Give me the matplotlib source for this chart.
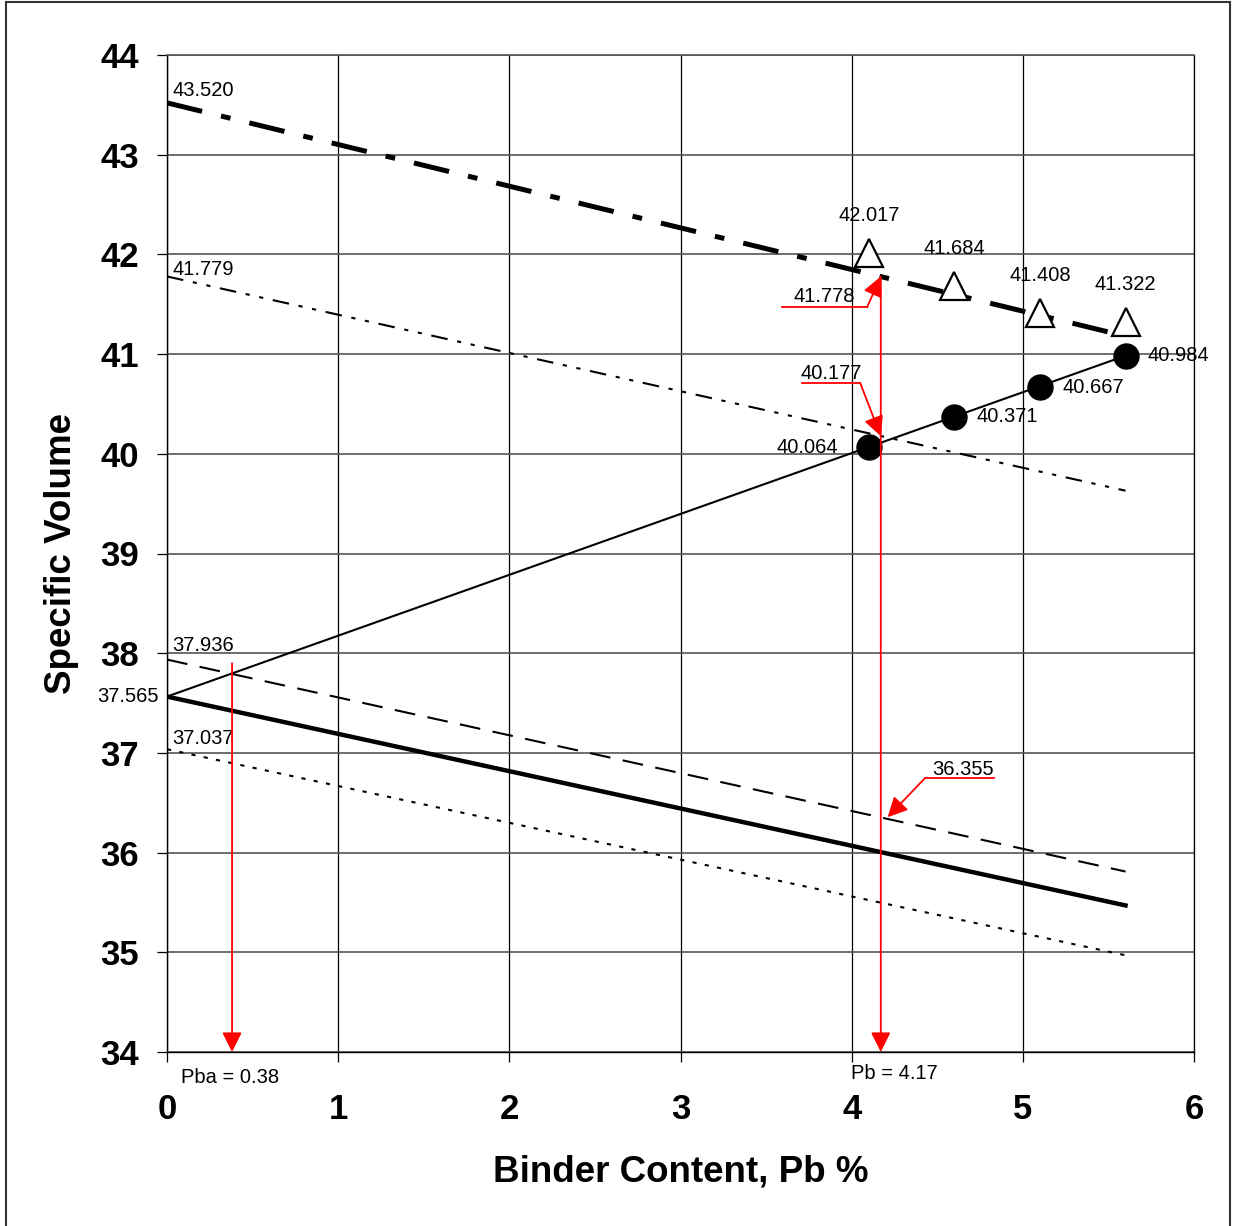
import matplotlib
matplotlib.use("Agg")
import matplotlib.pyplot as plt
from matplotlib.patches import Rectangle

plt.rcParams["font.family"] = ["Liberation Sans", "DejaVu Sans"]
plt.rcParams["lines.scale_dashes"] = False

# measured points
pb_points = [4.1, 4.6, 5.1, 5.6]
vol_mix = [40.064, 40.371, 40.667, 40.984]
vol_max = [42.017, 41.684, 41.408, 41.322]

# fitted / derived lines, evaluated at Pb = 0 and Pb = 5.6
line_x = [0.0, 5.6]
line_max = [43.520, 41.180]
line_eff = [41.779, 39.630]
line_mix = [37.565, 40.984]
line_agg = [37.565, 35.470]
line_agg_hi = [37.936, 35.810]
line_agg_lo = [37.037, 34.970]

pba = 0.38
pb = 4.17
pb_max = 41.778
pb_eff = 40.177
pb_agg_hi = 36.355
pba_top = 37.9

fig = plt.figure(figsize=(12.33, 12.26), dpi=100)
ax = fig.add_axes([167 / 1233, 1 - 1052 / 1226, (1194 - 167) / 1233, (1052 - 55) / 1226])

ax.plot(line_x, line_max, color="black", lw=3.6, dashes=(26, 14, 7, 14), solid_capstyle="butt", dash_capstyle="butt")
ax.plot(line_x, line_eff, color="black", lw=1.5, dashes=(12, 7, 3, 7, 3, 7))
ax.plot(line_x, line_mix, color="black", lw=1.5)
ax.plot(line_x, line_agg, color="black", lw=3.2)
ax.plot(line_x, line_agg_hi, color="black", lw=1.5, dashes=(15, 9))
ax.plot(line_x, line_agg_lo, color="black", lw=1.5, dashes=(3, 6))

ax.plot(pb_points, vol_mix, "o", color="black", ms=18, zorder=5)
ax.plot(pb_points, vol_max, "^", mfc="white", mec="black", mew=1.6, ms=20, zorder=5)

small = 14.5
for x, y in zip(pb_points, vol_max):
    ax.annotate(f"{y:.3f}", (x, y), xytext=(0, 27), textcoords="offset points",
                ha="center", va="center", fontsize=small)
for i, (x, y) in enumerate(zip(pb_points, vol_mix)):
    if i == 0:
        ax.annotate(f"{y:.3f}", (x, y), xytext=(-22, 0), textcoords="offset points",
                    ha="right", va="center", fontsize=small)
    else:
        ax.annotate(f"{y:.3f}", (x, y), xytext=(16, 0), textcoords="offset points",
                    ha="left", va="center", fontsize=small)

for vals, dy in [(line_max, 9), (line_eff, 5), (line_agg_hi, 10), (line_agg_lo, 8)]:
    ax.annotate(f"{vals[0]:.3f}", (line_x[0], vals[0]), xytext=(4, dy), textcoords="offset points",
                ha="left", va="center", fontsize=small)
ax.annotate(f"{line_mix[0]:.3f}", (line_x[0], line_mix[0]), xytext=(-6, 0), textcoords="offset points",
            ha="right", va="center", fontsize=small, annotation_clip=False)

# red construction lines
red = "#ff0000"
head = dict(arrowstyle="-|>", color=red, lw=1.3, mutation_scale=30, shrinkA=0, shrinkB=0)
ax.annotate("", xy=(pba, 34.0), xytext=(pba, pba_top), arrowprops=head, zorder=6)
ax.annotate("", xy=(pb, 34.0), xytext=(pb, pb_max), arrowprops=head, zorder=6)

# leader: 41.778
ax.plot([3.593, 4.09], [41.47, 41.47], color=red, lw=1.3, zorder=6)
ax.annotate("", xy=(pb, pb_max), xytext=(4.09, 41.47), arrowprops=head, zorder=6)
ax.text(3.84, 41.58, f"{pb_max:.3f}", ha="center", va="center", fontsize=small)

# leader: 40.177
ax.plot([3.71, 4.05], [40.71, 40.71], color=red, lw=1.3, zorder=6)
ax.annotate("", xy=(pb, pb_eff), xytext=(4.05, 40.71), arrowprops=head, zorder=6)
ax.text(3.88, 40.81, f"{pb_eff:.3f}", ha="center", va="center", fontsize=small)

# leader: 36.355
ax.plot([4.43, 4.83], [36.75, 36.75], color=red, lw=1.3, zorder=6)
ax.annotate("", xy=(pb + 0.04, pb_agg_hi), xytext=(4.43, 36.75), arrowprops=head, zorder=6)
ax.text(4.65, 36.83, f"{pb_agg_hi:.3f}", ha="center", va="center", fontsize=small)

ax.text(pba - 0.01, 33.74, f"Pba = {pba:.2f}", ha="center", va="center", fontsize=small, clip_on=False)
ax.text(pb + 0.08, 33.78, f"Pb = {pb:.2f}", ha="center", va="center", fontsize=small, clip_on=False)

ax.set_xlim(0, 6)
ax.set_ylim(34, 44)
ax.set_xticks(range(0, 7))
ax.set_yticks(range(34, 45))
ax.grid(axis="x", color="black", lw=0.9)
ax.grid(axis="y", color="#555555", lw=1.2)
ax.set_axisbelow(True)
ax.spines["top"].set_color("#555555")
ax.spines["top"].set_linewidth(1.2)
ax.spines["right"].set_linewidth(0.9)
for side in ["left", "bottom"]:
    ax.spines[side].set_linewidth(1.0)
ax.tick_params(axis="both", direction="out", length=7.2, width=0.9, labelsize=25)
ax.tick_params(axis="x", pad=22)
ax.tick_params(axis="y", pad=13)
for lbl in ax.get_xticklabels() + ax.get_yticklabels():
    lbl.set_fontweight("bold")

ax.set_xlabel("Binder Content, Pb %", fontsize=26.5, fontweight="bold", labelpad=21)
ax.set_ylabel("Specific Volume", fontsize=26.5, fontweight="bold", labelpad=15)

fig.add_artist(Rectangle((6 / 1233, -0.05), (1230 - 6) / 1233, 1.05 - 2 / 1226,
                         transform=fig.transFigure, fill=False, ec="#333333", lw=1.5))

fig.savefig("out.png", dpi=100)
